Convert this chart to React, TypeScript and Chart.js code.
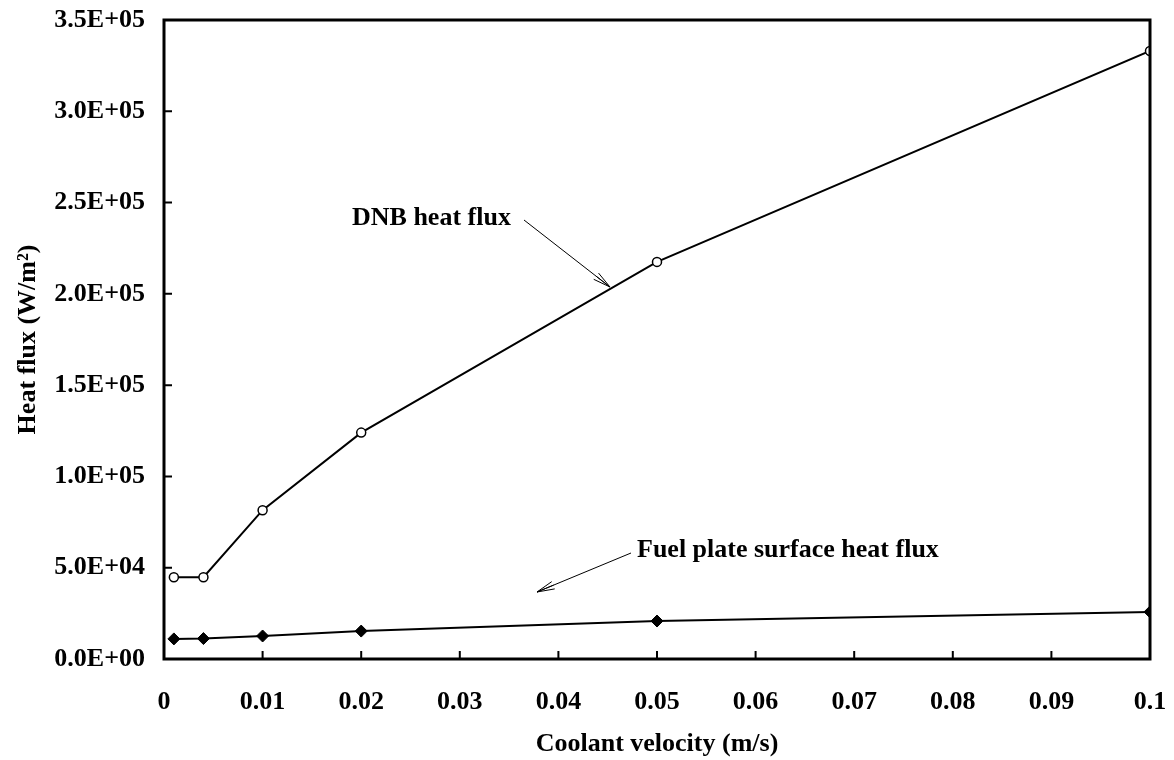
import React, { useEffect, useRef } from "react";
import { Chart, registerables } from "chart.js";

Chart.register(...registerables);

const velocity = [0.001, 0.004, 0.01, 0.02, 0.05, 0.1];
const dnbFlux = [44800, 44800, 81500, 124000, 217500, 333000];
const fuelFlux = [11000, 11200, 12600, 15300, 20800, 25800];
const xTicks = [0, 0.01, 0.02, 0.03, 0.04, 0.05, 0.06, 0.07, 0.08, 0.09, 0.1];
const yTicks = [0, 50000, 100000, 150000, 200000, 250000, 300000, 350000];

const FONT = "'Liberation Serif', 'Times New Roman', serif";

function fmtExp(v: number): string {
  const s = v.toExponential(1);
  const [m, e] = s.split("e");
  const sign = e[0] === "-" ? "-" : "+";
  const digits = e.replace(/[+-]/, "").padStart(2, "0");
  return `${m}E${sign}${digits}`;
}

const framePlugin = {
  id: "frameAndNotes",
  afterDatasetsDraw(chart: any) {
    const { ctx, chartArea: a, scales } = chart;
    const xs = scales.x;
    const ys = scales.y;
    ctx.save();
    ctx.strokeStyle = "#000";
    ctx.lineWidth = 3;
    ctx.strokeRect(a.left, a.top, a.right - a.left, a.bottom - a.top);
    ctx.lineWidth = 2;
    ctx.beginPath();
    for (const t of yTicks) {
      const y = ys.getPixelForValue(t);
      ctx.moveTo(a.left, y);
      ctx.lineTo(a.left + 8, y);
    }
    for (const t of xTicks) {
      const x = xs.getPixelForValue(t);
      ctx.moveTo(x, a.bottom);
      ctx.lineTo(x, a.bottom - 8);
    }
    ctx.stroke();

    // annotations
    ctx.fillStyle = "#000";
    ctx.font = `bold 26px ${FONT}`;
    ctx.textBaseline = "middle";
    ctx.textAlign = "left";
    ctx.fillText("DNB heat flux", 352, 218);
    ctx.fillText("Fuel plate surface heat flux", 637, 550);

    const arrow = (x1: number, y1: number, x2: number, y2: number) => {
      ctx.lineWidth = 1;
      ctx.beginPath();
      ctx.moveTo(x1, y1);
      ctx.lineTo(x2, y2);
      const ang = Math.atan2(y2 - y1, x2 - x1);
      const len = 18;
      for (const d of [-0.22, 0, 0.22]) {
        ctx.moveTo(x2, y2);
        ctx.lineTo(x2 - len * Math.cos(ang + d), y2 - len * Math.sin(ang + d));
      }
      ctx.stroke();
    };
    arrow(524, 220, 610, 287);
    arrow(631, 553, 537, 592);
    ctx.restore();
  },
};

export default function App() {
  const ref = useRef<HTMLCanvasElement | null>(null);
  useEffect(() => {
    if (!ref.current) return;
    const chart = new Chart(ref.current, {
      type: "line",
      data: {
        datasets: [
          {
            label: "DNB heat flux",
            data: velocity.map((x, i) => ({ x, y: dnbFlux[i] })),
            borderColor: "#000",
            borderWidth: 2,
            pointStyle: "circle",
            pointRadius: 4.5,
            pointBackgroundColor: "#fff",
            pointBorderColor: "#000",
            pointBorderWidth: 1.5,
            tension: 0,
          },
          {
            label: "Fuel plate surface heat flux",
            data: velocity.map((x, i) => ({ x, y: fuelFlux[i] })),
            borderColor: "#000",
            borderWidth: 2,
            pointStyle: "rectRot",
            pointRadius: 6,
            pointBackgroundColor: "#000",
            pointBorderColor: "#000",
            pointBorderWidth: 1,
            tension: 0,
          },
        ],
      },
      options: {
        animation: false,
        responsive: true,
        maintainAspectRatio: false,
        layout: { padding: { top: 20, right: 24, left: 0, bottom: 0 } },
        plugins: { legend: { display: false }, tooltip: { enabled: false } },
        scales: {
          x: {
            type: "linear",
            min: 0,
            max: 0.1,
            grid: { display: false, drawTicks: false },
            border: { display: false },
            afterBuildTicks: (s: any) => {
              s.ticks = xTicks.map((v) => ({ value: v }));
            },
            afterFit: (s: any) => {
              s.height = 101;
              s.paddingLeft = 0;
              s.paddingRight = 0;
            },
            ticks: {
              color: "#000",
              padding: 28,
              font: { family: FONT, size: 26, weight: "bold" },
              callback: (v: any) => String(Number(v)),
            },
            title: {
              display: true,
              text: "Coolant velocity (m/s)",
              color: "#000",
              font: { family: FONT, size: 26, weight: "bold" },
              padding: { top: 9, bottom: 0 },
            },
          },
          y: {
            type: "linear",
            min: 0,
            max: 350000,
            grid: { display: false, drawTicks: false },
            border: { display: false },
            afterBuildTicks: (s: any) => {
              s.ticks = yTicks.map((v) => ({ value: v }));
            },
            afterFit: (s: any) => {
              s.width = 164;
              s.paddingTop = 0;
              s.paddingBottom = 0;
            },
            ticks: {
              color: "#000",
              padding: 19,
              font: { family: FONT, size: 26, weight: "bold" },
              callback: (v: any) => fmtExp(Number(v)),
            },
            title: {
              display: true,
              text: "Heat flux (W/m²)",
              color: "#000",
              font: { family: FONT, size: 26, weight: "bold" },
              padding: { top: 13, bottom: 0 },
            },
          },
        },
      },
      plugins: [framePlugin],
    } as any);
    return () => chart.destroy();
  }, []);
  return (
    <div style={{ position: "fixed", left: 0, top: 0, width: 1174, height: 760, background: "#fff" }}>
      <canvas ref={ref} />
    </div>
  );
}
